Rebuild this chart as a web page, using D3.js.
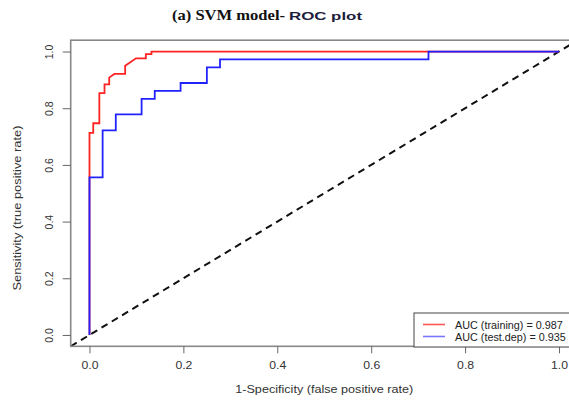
<!DOCTYPE html>
<meta charset="utf-8">
<style>
body { margin: 0; background: #fff; }
text { font-family: "Liberation Sans", Arial, sans-serif; }
.axis text { font-size: 11.5px; fill: #333; }
.axis line { stroke: #666; }
</style>
<svg width="569" height="403"></svg>
<script src="https://d3js.org/d3.v7.min.js"></script>
<script>

// ROC data (fpr, tpr vertices)
var red_fpr = [0, 0, 0.008, 0.008, 0.021, 0.021, 0.032, 0.032, 0.042, 0.042, 0.053, 0.076, 0.076, 0.087, 0.099, 0.12, 0.12, 0.132, 0.132, 1.0];
var red_tpr = [0, 0.713, 0.713, 0.747, 0.747, 0.853, 0.853, 0.884, 0.884, 0.908, 0.921, 0.921, 0.95, 0.962, 0.976, 0.976, 0.991, 0.991, 1.0, 1.0];

var blue_fpr = [0, 0, 0.028, 0.028, 0.056, 0.056, 0.111, 0.111, 0.139, 0.139, 0.194, 0.194, 0.25, 0.25, 0.278, 0.278, 0.722, 0.722, 1.0];
var blue_tpr = [0, 0.556, 0.556, 0.722, 0.722, 0.778, 0.778, 0.833, 0.833, 0.861, 0.861, 0.889, 0.889, 0.944, 0.944, 0.972, 0.972, 1.0, 1.0];

var ticks = [0, 0.2, 0.4, 0.6, 0.8, 1.0];
var legend_labels = ["AUC (training) = 0.987", "AUC (test.dep) = 0.935"];
var legend_colours = ["#ff5555", "#7777ff"];

var svg = d3.select("svg");

// R-style 4% padding around 0..1
var x = d3.scaleLinear().domain([-0.04, 1.04]).range([70.7, 577.8]);
var y = d3.scaleLinear().domain([-0.04, 1.04]).range([346.3, 40.2]);

// title: serif part then a stretched sans part
svg.append("text")
   .attr("x", 172)
   .attr("y", 20)
   .style("font-weight", "bold")
   .style("font-size", "14px")
   .style("font-family", "'Liberation Serif', 'Times New Roman', serif")
   .attr("fill", "#111")
   .attr("textLength", 113)
   .attr("lengthAdjust", "spacingAndGlyphs")
   .text("(a) SVM model-");
svg.append("text")
   .attr("x", 289)
   .attr("y", 20)
   .style("font-weight", "bold")
   .style("font-size", "11.5px")
   .attr("fill", "#1c1c3c")
   .attr("textLength", 73)
   .attr("lengthAdjust", "spacingAndGlyphs")
   .text("ROC plot");

svg.append("clipPath").attr("id", "plotclip")
   .append("rect")
   .attr("x", x(-0.04)).attr("y", y(1.04))
   .attr("width", x(1.04) - x(-0.04))
   .attr("height", y(-0.04) - y(1.04));

var plot = svg.append("g").attr("clip-path", "url(#plotclip)");

// chance line
plot.append("line")
    .attr("x1", x(-0.04)).attr("y1", y(-0.04))
    .attr("x2", x(1.04)).attr("y2", y(1.04))
    .attr("stroke", "#111")
    .attr("stroke-width", 2)
    .style("stroke-dasharray", "7,5");

var line = d3.line()
    .x(function(d) { return x(d[0]); })
    .y(function(d) { return y(d[1]); });

plot.append("path")
    .datum(d3.zip(red_fpr, red_tpr))
    .attr("d", line)
    .attr("fill", "none")
    .attr("stroke", "#ff2222")
    .attr("stroke-width", 1.8);

plot.append("path")
    .datum(d3.zip(blue_fpr, blue_tpr))
    .attr("d", line)
    .attr("fill", "none")
    .attr("stroke", "#2222ff")
    .attr("stroke-width", 1.8);

// box
svg.append("rect")
   .attr("x", x(-0.04)).attr("y", y(1.04))
   .attr("width", x(1.04) - x(-0.04))
   .attr("height", y(-0.04) - y(1.04))
   .attr("fill", "none")
   .attr("stroke", "#888")
   .attr("stroke-width", 1.6);

// axes
var xAxis = svg.append("g")
   .attr("class", "axis")
   .attr("transform", "translate(0," + y(-0.04) + ")")
   .call(d3.axisBottom(x).tickValues(ticks).tickFormat(d3.format(".1f")).tickSize(7).tickPadding(8));
xAxis.select(".domain").remove();
xAxis.selectAll("text").attr("textLength", 17).attr("lengthAdjust", "spacingAndGlyphs");

var yAxis = svg.append("g")
   .attr("class", "axis")
   .attr("transform", "translate(" + x(-0.04) + ",0)")
   .call(d3.axisLeft(y).tickValues(ticks).tickFormat(d3.format(".1f")).tickSize(8));
yAxis.select(".domain").remove();
yAxis.selectAll("text")
   .attr("transform", "translate(-21,0) rotate(-90)")
   .attr("x", 0).attr("y", 0).attr("dy", "0.35em")
   .style("font-size", "10.5px")
   .style("text-anchor", "middle");

svg.append("text")
   .attr("x", (x(0) + x(1)) / 2)
   .attr("y", 393)
   .style("font-size", "11px")
   .attr("fill", "#333")
   .style("text-anchor", "middle")
   .attr("textLength", 178)
   .attr("lengthAdjust", "spacingAndGlyphs")
   .text("1-Specificity (false positive rate)");

svg.append("text")
   .attr("transform", "translate(21,208) rotate(-90)")
   .style("font-size", "11px")
   .attr("fill", "#333")
   .style("text-anchor", "middle")
   .attr("textLength", 165)
   .attr("lengthAdjust", "spacingAndGlyphs")
   .text("Sensitivity (true positive rate)");

// legend
var lg = svg.append("g");
lg.append("rect")
  .attr("x", 414).attr("y", 313)
  .attr("width", 200).attr("height", 34)
  .attr("fill", "#fff")
  .attr("stroke", "#444")
  .attr("stroke-width", 1);

lg.selectAll(".lgline")
  .data(legend_colours)
  .enter().append("line")
  .attr("x1", 423).attr("x2", 445)
  .attr("y1", function(d, i) { return 324.5 + i * 12; })
  .attr("y2", function(d, i) { return 324.5 + i * 12; })
  .attr("stroke", function(d) { return d; })
  .attr("stroke-width", 1.6);

lg.selectAll(".lgtext")
  .data(legend_labels)
  .enter().append("text")
  .attr("x", 455)
  .attr("y", function(d, i) { return 328.5 + i * 12; })
  .style("font-size", "10.8px")
  .attr("fill", "#222")
  .text(function(d) { return d; });

</script>
